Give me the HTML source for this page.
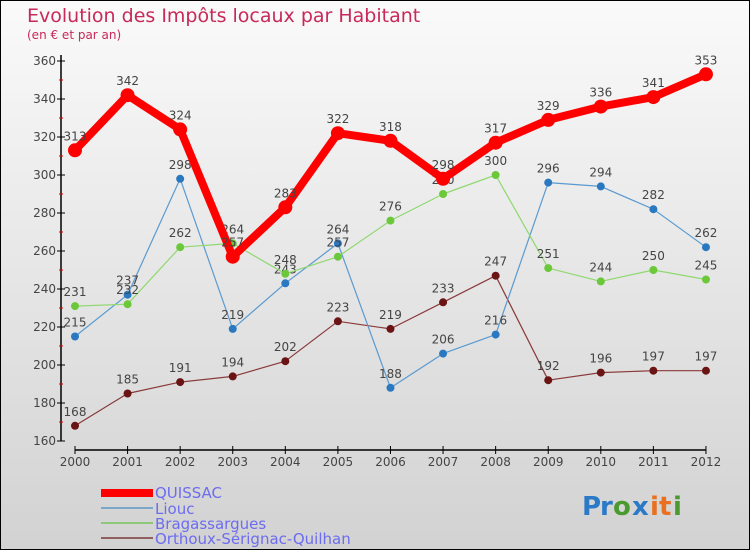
<!DOCTYPE html>
<html><head><meta charset="utf-8"><style>
body{margin:0}
#c{width:750px;height:550px;position:relative;overflow:hidden}
svg text{font-family:"DejaVu Sans","Liberation Sans",sans-serif}
</style></head><body>
<div id="c">
<svg id="s" width="750" height="550" xmlns="http://www.w3.org/2000/svg">
<defs><linearGradient id="bg" x1="0" y1="0" x2="0" y2="1"><stop offset="0" stop-color="#fafafa"/><stop offset="1" stop-color="#d2d2d2"/></linearGradient></defs>
<rect x="0.5" y="0.5" width="749" height="549" fill="url(#bg)" stroke="#000"/>
<text x="27" y="22" font-size="19" fill="#c8285a">Evolution des Impôts locaux par Habitant</text>
<text x="27" y="39" font-size="12" fill="#c8285a">(en € et par an)</text>
<g id="axes"></g><g id="plot"></g>
<g>
<rect x="101" y="489" width="52" height="8" fill="#f00"/>
<text x="155" y="498" font-size="15" fill="#6c6cf0">QUISSAC</text>
<rect x="101" y="507" width="52" height="2" fill="#7aa6c8"/>
<text x="155" y="514" font-size="15" fill="#6c6cf0">Liouc</text>
<rect x="101" y="522" width="52" height="2" fill="#8cc878"/>
<text x="155" y="529" font-size="15" fill="#6c6cf0">Bragassargues</text>
<rect x="101" y="537" width="52" height="2" fill="#906060"/>
<text x="155" y="544" font-size="15" fill="#6c6cf0">Orthoux-Sérignac-Quilhan</text>
</g>
<g font-size="26" font-weight="bold">
<text x="582" y="515" fill="#2a7ac8">P</text><text x="600" y="515" fill="#2a7ac8">r</text><text x="613" y="515" fill="#4a9a30">o</text><text x="632" y="515" fill="#2a7ac8">x</text><text x="650" y="515" fill="#e87020">i</text><text x="659" y="515" fill="#e87020">t</text><text x="673" y="515" fill="#4a9a30">i</text>
</g>
</svg></div>
<script>
const years=["2000","2001","2002","2003","2004","2005","2006","2007","2008","2009","2010","2011","2012"];
const quissac=[313,342,324,257,283,322,318,298,317,329,336,341,353];
const liouc=[215,237,298,219,243,264,188,206,216,296,294,282,262];
const bragassargues=[231,232,262,264,248,257,276,290,300,251,244,250,245];
const orthoux=[168,185,191,194,202,223,219,233,247,192,196,197,197];
const yTicks=[160,180,200,220,240,260,280,300,320,340,360];
const NS="http://www.w3.org/2000/svg";
const xs=i=>75+i*52.58;
const ys=v=>441-(v-160)*1.9;
function mk(t,a,p){const e=document.createElementNS(NS,t);for(const k in a)e.setAttribute(k,a[k]);p.appendChild(e);return e;}
const ax=document.getElementById('axes');
let l=mk('line',{x1:61,y1:55,x2:61,y2:441,stroke:'#000','stroke-width':1.5},ax);


l=mk('line',{x1:75,y1:450,x2:706,y2:450,stroke:'#000','stroke-width':1.5},ax);


yTicks.forEach(v=>{
 mk('line',{x1:57,y1:ys(v),x2:65,y2:ys(v),stroke:'#000'},ax);
 if(v<360)mk('line',{x1:59,y1:ys(v+10),x2:63,y2:ys(v+10),stroke:'#d00'},ax);
 const t=mk('text',{x:56,y:ys(v)+4,'font-size':12,fill:'#444','text-anchor':'end'},ax);
 t.textContent=v;
 
 
});
years.forEach((y,i)=>{
 mk('line',{x1:xs(i),y1:446,x2:xs(i),y2:454,stroke:'#000'},ax);
 const t=mk('text',{x:xs(i),y:466,'font-size':12,fill:'#444','text-anchor':'middle'},ax);
 t.textContent=y;
 
 
});
const pl=document.getElementById('plot');
function series(d,name,col,dot,w,r,fs){
 const g=mk('g',{},pl);
 
 
 const p=mk('polyline',{points:d.map((v,i)=>xs(i)+','+ys(v)).join(' '),fill:'none',stroke:col,'stroke-width':w,'stroke-linejoin':'round'},g);
 
 
 d.forEach((v,i)=>{
  const c=mk('circle',{cx:xs(i),cy:ys(v),r:r,fill:dot},g);
  
  
  const t=mk('text',{x:xs(i),y:ys(v)-10,'font-size':12,fill:'#444','text-anchor':'middle'},g);
  t.textContent=v;
  
  
 });
}
series(orthoux,'orthoux','#8a3a3a','#6a1414',1.2,4);
series(liouc,'liouc','#5a9ad0','#2a78c0',1.2,4);
series(bragassargues,'bragassargues','#90d870','#6ac83a',1.2,4);
series(quissac,'quissac','#f00','#f00',8,7);
</script>
</body></html>
